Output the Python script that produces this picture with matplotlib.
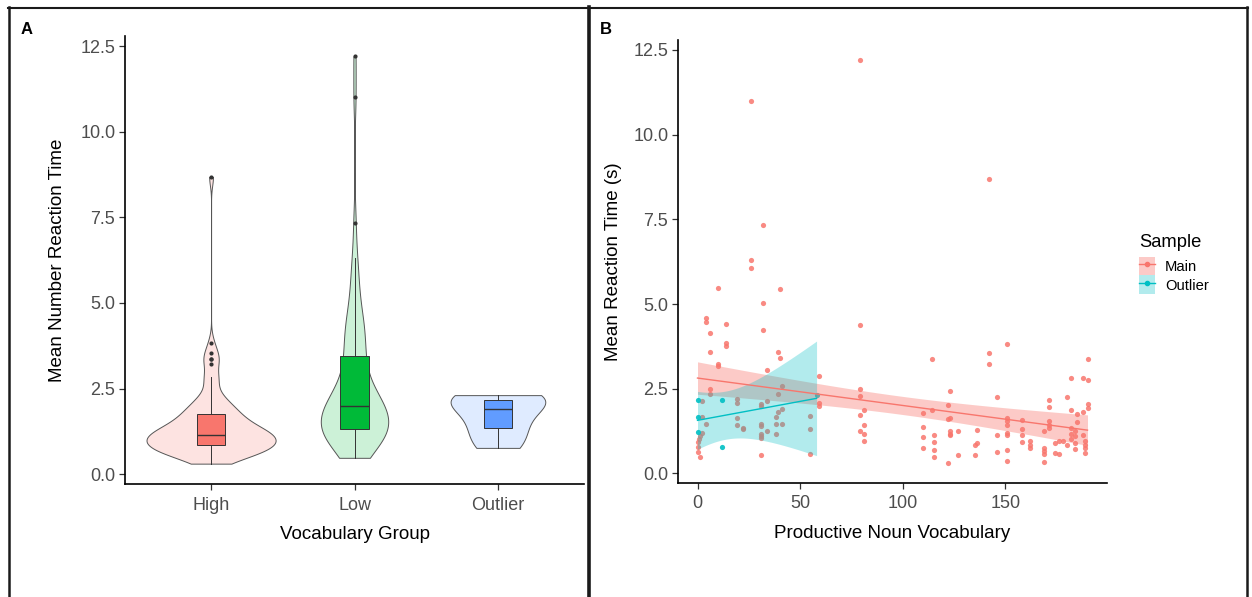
import numpy as np
import matplotlib
matplotlib.use("Agg")
import matplotlib.pyplot as plt
from matplotlib.colors import to_rgba
from matplotlib.legend_handler import HandlerTuple
from matplotlib.lines import Line2D
from matplotlib.patches import Patch

plt.rcParams["font.family"] = ["Liberation Sans", "DejaVu Sans"]

# main sample: productive noun vocabulary vs mean reaction time (s)
main_x = [0, 0, 0, 1, 2, 1, 0.5, 2, 2,
          4, 4, 4, 6, 6, 6, 6, 10, 10, 10, 14, 14, 14,
          19, 19, 19, 19, 22, 22, 26, 26, 26,
          31, 31, 31, 31, 31, 31, 31, 31, 32, 32, 32, 34, 34, 34,
          39, 40, 40, 41, 39, 41, 39, 38, 38, 41, 38,
          55, 55, 55, 59, 59, 59, 79, 79, 79, 79, 79, 79, 81, 81, 81, 81,
          110, 110, 110, 110, 114, 114, 115, 115, 115, 115,
          122, 122, 123, 123, 122, 123, 123, 123, 127, 127,
          135, 135, 136, 136, 142, 142, 142, 146, 146, 146,
          151, 151, 151, 151, 151, 151, 151, 151, 158, 158, 158, 158,
          162, 162, 162, 169, 169, 169, 169, 169, 171, 171, 171, 171, 171,
          174, 174, 176, 176, 178, 180, 180, 182, 182, 182, 182, 182,
          184, 184, 184, 184, 185, 185, 188, 188, 188, 189, 189, 189, 189,
          190, 190, 190, 190]
main_y = [0.92, 0.79, 0.62, 0.48, 1.20, 1.10, 1.00, 1.66, 2.13,
          4.58, 4.48, 1.46, 4.13, 3.58, 2.49, 2.35, 5.48, 3.23, 3.18, 4.42, 3.86, 3.76,
          2.20, 2.07, 1.62, 1.42, 1.34, 1.31, 11.0, 6.31, 6.06,
          2.05, 1.99, 1.46, 1.39, 1.17, 1.10, 1.05, 0.55, 7.34, 5.03, 4.24, 3.06, 2.15, 1.26,
          3.59, 5.44, 3.41, 2.58, 2.35, 1.90, 1.81, 1.66, 1.46, 1.46, 1.17,
          1.68, 1.30, 0.58, 2.86, 2.08, 2.00, 12.2, 4.38, 2.49, 2.27, 1.73, 1.25, 1.88, 1.44, 1.17, 0.97,
          1.77, 1.37, 1.08, 0.74, 3.37, 1.86, 1.13, 0.93, 0.68, 0.48,
          2.01, 0.31, 2.44, 1.64, 1.60, 1.24, 1.17, 1.12, 1.25, 0.55,
          0.85, 0.55, 1.29, 0.90, 8.68, 3.55, 3.23, 2.26, 1.13, 0.63,
          3.82, 1.62, 1.54, 1.44, 1.20, 1.13, 0.69, 0.36, 1.57, 1.31, 1.12, 0.92,
          0.95, 0.85, 0.75, 1.25, 0.75, 0.66, 0.56, 0.35, 2.17, 1.95, 1.54, 1.44, 1.35,
          0.90, 0.60, 0.95, 0.58, 0.95, 2.24, 0.85, 2.83, 1.86, 1.34, 1.15, 1.00,
          1.25, 1.10, 0.90, 0.71, 1.76, 1.52, 2.83, 1.80, 1.13, 0.95, 0.85, 0.75, 0.61,
          3.37, 2.76, 2.06, 1.93]

# outlier sample
outlier_x = [0, 12, 0, 0, 12, 58]
outlier_y = [2.17, 2.17, 1.66, 1.23, 0.77, 2.31]

group_names = ["High", "Low", "Outlier"]
high_vocab_cut = 100

pink, green, blue, teal = "#F8766D", "#00BA38", "#619CFF", "#00BFC4"
tick_gray = "#4D4D4D"


def nrd0(kde):
    d = np.asarray(kde.dataset).ravel()
    sd = d.std(ddof=1)
    q75, q25 = np.percentile(d, [75, 25])
    h = 0.9 * min(sd, (q75 - q25) / 1.34) * len(d) ** -0.2
    return h / sd


def t975(df):
    z = 1.959964
    return (z + (z**3 + z) / (4 * df)
            + (5 * z**5 + 16 * z**3 + 3 * z) / (96 * df**2)
            + (3 * z**7 + 19 * z**5 + 17 * z**3 - 15 * z) / (384 * df**3))


def lm_band(x, y, grid):
    x, y = np.asarray(x, float), np.asarray(y, float)
    n = len(x)
    b, a = np.polyfit(x, y, 1)
    fit = a + b * grid
    s = np.sqrt(np.sum((y - (a + b * x)) ** 2) / (n - 2))
    sxx = np.sum((x - x.mean()) ** 2)
    se = s * np.sqrt(1 / n + (grid - x.mean()) ** 2 / sxx)
    t = t975(n - 2)
    return fit, fit - t * se, fit + t * se


def style_axes(ax):
    for side in ("top", "right"):
        ax.spines[side].set_visible(False)
    for side in ("left", "bottom"):
        ax.spines[side].set_linewidth(1.2)
        ax.spines[side].set_color("black")
    ax.tick_params(length=4, width=0.9, color="#333333", labelcolor=tick_gray,
                   labelsize=13, pad=3)
    ax.tick_params(axis="x", pad=5)


mx = np.array(main_x, float)
my = np.array(main_y, float)
groups = [my[mx >= high_vocab_cut], my[mx < high_vocab_cut], np.array(outlier_y)]
group_colors = [pink, green, blue]

W, H = 1252, 597
fig = plt.figure(figsize=(W / 100, H / 100), dpi=100)

# ---- panel A
axA = fig.add_axes([125 / W, 1 - 484 / H, (584 - 125) / W, (484 - 36) / H])
pos = [1, 2, 3]
vp = axA.violinplot(groups, positions=pos, widths=[0.9, 0.47, 0.66],
                    showextrema=False, points=512, bw_method=nrd0)
for body, c in zip(vp["bodies"], group_colors):
    body.set_alpha(None)
    body.set_facecolor(to_rgba(c, 0.2))
    body.set_edgecolor("#555555")
    body.set_linewidth(0.7)

bp = axA.boxplot(groups, positions=pos, widths=0.2, patch_artist=True,
                 showcaps=False, manage_ticks=False,
                 boxprops=dict(edgecolor="#333333", linewidth=0.7),
                 whiskerprops=dict(color="#333333", linewidth=0.7),
                 medianprops=dict(color="#333333", linewidth=1.0),
                 flierprops=dict(marker="o", markersize=3, markerfacecolor="#333333",
                                 markeredgecolor="none"))
for box, c in zip(bp["boxes"], group_colors):
    box.set_facecolor(c)

axA.set_xlim(0.4, 3.6)
axA.set_xticks(pos, group_names)
axA.set_yticks(np.arange(0, 12.6, 2.5))
axA.yaxis.set_major_formatter("{x:.1f}")
style_axes(axA)
axA.set_xlabel("Vocabulary Group", fontsize=13.5, labelpad=9)
axA.set_ylabel("Mean Number Reaction Time", fontsize=13.5, labelpad=10)

# ---- panel B
axB = fig.add_axes([678 / W, 1 - 483 / H, (1107 - 678) / W, (483 - 40) / H])
axB.scatter(mx, my, s=14, color=pink, alpha=0.85, linewidths=0, zorder=2)
axB.scatter(outlier_x, outlier_y, s=14, color=teal, alpha=0.9, linewidths=0, zorder=2)

for xs, ys, c, a in [(main_x, main_y, pink, 0.38), (outlier_x, outlier_y, teal, 0.3)]:
    grid = np.linspace(min(xs), max(xs), 80)
    fit, lo, hi = lm_band(xs, ys, grid)
    axB.fill_between(grid, lo, hi, color=c, alpha=a, linewidth=0, zorder=3)
    axB.plot(grid, fit, color=c, linewidth=1.0, zorder=4)

axB.set_xticks([0, 50, 100, 150])
axB.set_yticks(np.arange(0, 12.6, 2.5))
axB.yaxis.set_major_formatter("{x:.1f}")
style_axes(axB)
axB.set_xlabel("Productive Noun Vocabulary", fontsize=13.5, labelpad=9)
axB.set_ylabel("Mean Reaction Time (s)", fontsize=13.5, labelpad=8)

handles = [(Patch(facecolor=to_rgba(pink, 0.38), edgecolor="none"),
            Line2D([], [], color=pink, lw=1, marker="o", ms=3)),
           (Patch(facecolor=to_rgba(teal, 0.3), edgecolor="none"),
            Line2D([], [], color=teal, lw=1, marker="o", ms=3))]
leg = fig.legend(handles, ["Main", "Outlier"], handler_map={tuple: HandlerTuple(ndivide=1)},
                 title="Sample", loc="upper left", bbox_to_anchor=(1139 / W, 1 - 234 / H),
                 frameon=False, fontsize=10.6, title_fontsize=13.2, alignment="left",
                 handlelength=1.1, handleheight=1.6, labelspacing=0.0,
                 handletextpad=0.65, borderpad=0, borderaxespad=0)
leg._legend_box.sep = 4

# panel tags and borders
fig.text(21 / W, 1 - 30 / H, "A", fontsize=12, fontweight="bold", va="center")
fig.text(600 / W, 1 - 30 / H, "B", fontsize=12, fontweight="bold", va="center")
for (x0, y0, x1, y1, lw) in [(8, 7.5, 1248, 7.5, 1.5), (8.5, 7, 8.5, 597, 1.8),
                             (589, 7, 589, 597, 2.6), (1247, 7, 1247, 597, 1.8)]:
    fig.add_artist(Line2D([x0 / W, x1 / W], [1 - y0 / H, 1 - y1 / H],
                          transform=fig.transFigure, color="#1a1a1a", lw=lw))

fig.savefig("out.png", dpi=100)
